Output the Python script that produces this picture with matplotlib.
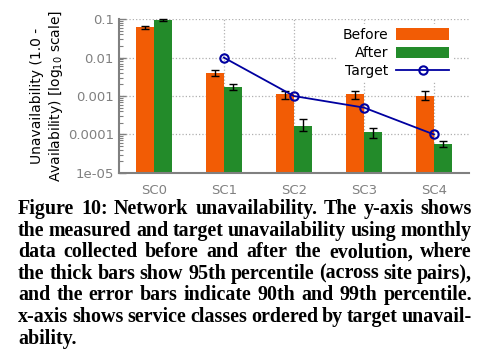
import matplotlib
matplotlib.use("Agg")
import matplotlib.pyplot as plt
import numpy as np

classes = ["SC0", "SC1", "SC2", "SC3", "SC4"]
before = [0.061, 0.0040, 0.0011, 0.0011, 0.0010]
before_lo = [0.056, 0.0033, 0.00082, 0.00085, 0.00078]
before_hi = [0.066, 0.0047, 0.00137, 0.00137, 0.00135]
after = [0.095, 0.0017, 0.000166, 0.000115, 0.000056]
after_lo = [0.090, 0.0014, 0.00012, 0.00008, 0.000048]
after_hi = [0.100, 0.0021, 0.00026, 0.00015, 0.000069]
target_x = ["SC1", "SC2", "SC3", "SC4"]
target = [0.01, 0.001, 0.0005, 0.0001]

caption = [
    "Figure 10: Network unavailability. The y-axis shows",
    "the measured and target unavailability using monthly",
    "data collected before and after the evolution, where",
    "the thick bars show 95th percentile (across site pairs),",
    "and the error bars indicate 90th and 99th percentile.",
    "x-axis shows service classes ordered by target unavail-",
    "ability.",
]

orange = '#f25c05'
green = '#238b2a'
blue = '#0000a0'
gray = '#808080'

fig = plt.figure(figsize=(4.85, 3.55), dpi=100)
ax = fig.add_axes([0.245, 0.513, 0.722, 0.433])

x = np.arange(len(classes))
w = 0.26
b_err = [np.array(before) - np.array(before_lo), np.array(before_hi) - np.array(before)]
a_err = [np.array(after) - np.array(after_lo), np.array(after_hi) - np.array(after)]
ax.bar(x - w / 2, before, w, color=orange, label='Before', zorder=2)
ax.bar(x + w / 2, after, w, color=green, label='After', zorder=2)
ax.errorbar(x - w / 2, before, yerr=b_err, fmt='none', ecolor='black',
            elinewidth=1, capsize=3, capthick=1, zorder=3)
ax.errorbar(x + w / 2, after, yerr=a_err, fmt='none', ecolor='black',
            elinewidth=1, capsize=3, capthick=1, zorder=3, clip_on=False)
tx = [classes.index(c) for c in target_x]
ax.plot(tx, target, color=blue, lw=1.3, marker='o', ms=6, mfc='none',
        mec=blue, mew=1.5, label='Target', zorder=4)

ax.set_yscale('log')
ax.set_ylim(1e-5, 0.1)
ax.set_xlim(-0.5, 4.5)
ax.set_xticks(x)
ax.set_xticklabels(classes)
ax.set_yticks([1e-5, 1e-4, 1e-3, 1e-2, 1e-1])
ax.set_yticklabels(['1e-05', '0.0001', '0.001', '0.01', '0.1'])
ax.tick_params(axis='y', which='both', direction='in', colors=gray,
               labelsize=9.5, labelcolor=gray)
ax.tick_params(axis='y', which='major', length=5, width=1)
ax.tick_params(axis='y', which='minor', length=3, width=0.8)
ax.tick_params(axis='x', length=0, labelsize=9.5, labelcolor=gray, pad=8)
ax.grid(True, which='major', color='#b0b0b0', ls=':', lw=0.9)
for s in ['top', 'right']:
    ax.spines[s].set_visible(False)
for s in ['left', 'bottom']:
    ax.spines[s].set_color(gray)
    ax.spines[s].set_linewidth(1.5)

ax.set_ylabel('Unavailability (1.0 -\nAvailability) [log$_{10}$ scale]',
              fontsize=10, labelpad=2)

h, l = ax.get_legend_handles_labels()
leg = ax.legend(h[1:] + h[:1], l[1:] + l[:1], loc='upper right',
                bbox_to_anchor=(0.975, 1.015), markerfirst=False, frameon=True,
                fontsize=10, handlelength=3.8, handleheight=0.9,
                labelspacing=0.3, borderpad=0.3, handletextpad=0.6)
leg.get_frame().set_edgecolor('none')
leg.get_frame().set_alpha(1)

# justified caption below the chart
renderer = fig.canvas.get_renderer()
left, right = 18, 472
base0, step = 214, 21.6
W, H = fig.bbox.width, fig.bbox.height
font = dict(family='Liberation Serif', weight='bold', size=13)
# size the font so the tightest line fits naturally
probe = fig.text(0, 0, caption[3], **font)
fs = 13 * (right - left) / probe.get_window_extent(renderer).width
probe.remove()
font['size'] = fs
for i, line in enumerate(caption):
    yb = 1 - (base0 + i * step) / H
    words = line.split(' ')
    if i == len(caption) - 1:
        fig.text(left / W, yb, line, va='baseline', ha='left', **font)
        continue
    texts = [fig.text(0, yb, wd, va='baseline', ha='left', **font) for wd in words]
    widths = [t.get_window_extent(renderer).width for t in texts]
    gap = (right - left - sum(widths)) / (len(words) - 1)
    xpos = left
    for t, wd in zip(texts, widths):
        t.set_x(xpos / W)
        xpos += wd + gap

fig.savefig('out.png', dpi=100)
